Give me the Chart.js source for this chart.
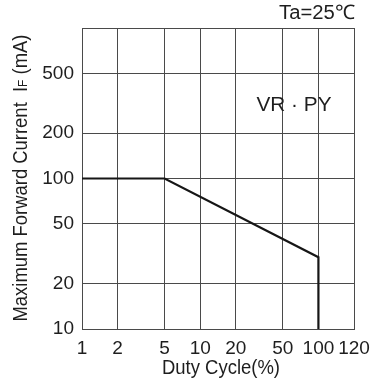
<!DOCTYPE html>
<html>
<head>
<meta charset="utf-8">
<script src="https://cdn.jsdelivr.net/npm/chart.js@4.4.1/dist/chart.umd.min.js"></script>
<style>
    html, body { margin: 0; padding: 0; background: #fff; }
    #wrap { width: 379px; height: 386px; }
</style>
</head>
<body>
<div id="wrap"><canvas id="deratingChart" width="379" height="386"></canvas></div>
<script>
// Derating curve: duty cycle (%) vs max forward current (mA)
var dutyCycle = [1, 5, 100, 100];
var forwardCurrent = [100, 100, 30, 10];

// Tick positions and the labels printed under/next to them
var xTickValues = [1, 2, 5, 10, 20, 50, 100, 200];
var xTickLabels = ['1', '2', '5', '10', '20', '50', '100', '120'];
var yTickValues = [10, 20, 50, 100, 200, 500, 1000];
var yTickLabels = ['10', '20', '50', '100', '200', '500', ''];

var fontFamily = "'Liberation Sans', Arial, Helvetica, sans-serif";
var gridColor = '#4a4a4a';
var textColor = '#1e1e1e';

// draws a run of text pieces squeezed horizontally to a given width
// (the original lettering is a slightly condensed sans)
function drawRun(ctx, parts, x, y, align, width) {
    var total = 0;
    parts.forEach(function(p) {
        ctx.font = p.f;
        p.w = ctx.measureText(p.t).width;
        total += p.w;
    });
    var sx = width / total;
    ctx.save();
    ctx.translate(x, y);
    ctx.scale(sx, 1);
    var cx = align === 'right' ? -total : (align === 'center' ? -total / 2 : 0);
    ctx.textAlign = 'left';
    ctx.textBaseline = 'alphabetic';
    parts.forEach(function(p) {
        ctx.font = p.f;
        ctx.fillText(p.t, cx, p.dy || 0);
        cx += p.w;
    });
    ctx.restore();
}

// extra texts: axis titles and the two notes inside / above the plot
var textPlugin = {
    id: 'textPlugin',
    afterDraw: function(chart) {
        var ctx = chart.ctx;
        var area = chart.chartArea;
        var big = '20px ' + fontFamily;
        var small = '13px ' + fontFamily;
        ctx.save();
        ctx.fillStyle = textColor;

        // x axis title
        drawRun(ctx, [{ t: 'Duty Cycle(%)', f: big }], 221, 374, 'center', 118);

        // top-right condition
        drawRun(ctx, [{ t: 'Ta=25\u2103', f: big }], area.right + 1, 19, 'right', 76);

        // product name
        drawRun(ctx, [{ t: 'VR \u00b7 PY', f: big }], 294, 111, 'center', 75);

        // y axis title, rotated, with small "F" subscript
        ctx.translate(27, 178);
        ctx.rotate(-Math.PI / 2);
        drawRun(ctx, [
            { t: 'Maximum Forward Current  I', f: big },
            { t: 'F', f: small },
            { t: ' (mA)', f: big }
        ], 0, 0, 'center', 287);
        ctx.restore();
    }
};

var ctx = document.getElementById('deratingChart').getContext('2d');
new Chart(ctx, {
    type: 'line',
    data: {
        datasets: [{
            data: dutyCycle.map(function(d, i) {
                return { x: d, y: forwardCurrent[i] };
            }),
            borderColor: '#161616',
            borderWidth: 2.2,
            pointRadius: 0,
            fill: false,
            tension: 0
        }]
    },
    options: {
        responsive: false,
        animation: false,
        events: [],
        layout: {
            padding: { top: 28, right: 25, left: 0, bottom: 0 }
        },
        plugins: {
            legend: { display: false },
            tooltip: { enabled: false }
        },
        scales: {
            x: {
                type: 'logarithmic',
                min: 1,
                max: 200,
                afterBuildTicks: function(axis) {
                    axis.ticks = xTickValues.map(function(v) { return { value: v }; });
                },
                afterFit: function(axis) { axis.height = 57; },
                grid: {
                    color: gridColor,
                    lineWidth: 1,
                    drawTicks: false
                },
                border: { color: gridColor, width: 1 },
                ticks: {
                    autoSkip: false,
                    maxRotation: 0,
                    padding: 8,
                    color: textColor,
                    font: { size: 19, family: fontFamily },
                    callback: function(value, index) {
                        return xTickLabels[index];
                    }
                }
            },
            y: {
                type: 'logarithmic',
                min: 10,
                max: 1000,
                afterBuildTicks: function(axis) {
                    axis.ticks = yTickValues.map(function(v) { return { value: v }; });
                },
                afterFit: function(axis) { axis.width = 82; },
                grid: {
                    color: gridColor,
                    lineWidth: 1,
                    drawTicks: false
                },
                border: { color: gridColor, width: 1 },
                ticks: {
                    autoSkip: false,
                    padding: 8,
                    color: textColor,
                    font: { size: 19, family: fontFamily },
                    callback: function(value, index) {
                        return yTickLabels[index];
                    }
                }
            }
        }
    },
    plugins: [textPlugin]
});
</script>
</body>
</html>
